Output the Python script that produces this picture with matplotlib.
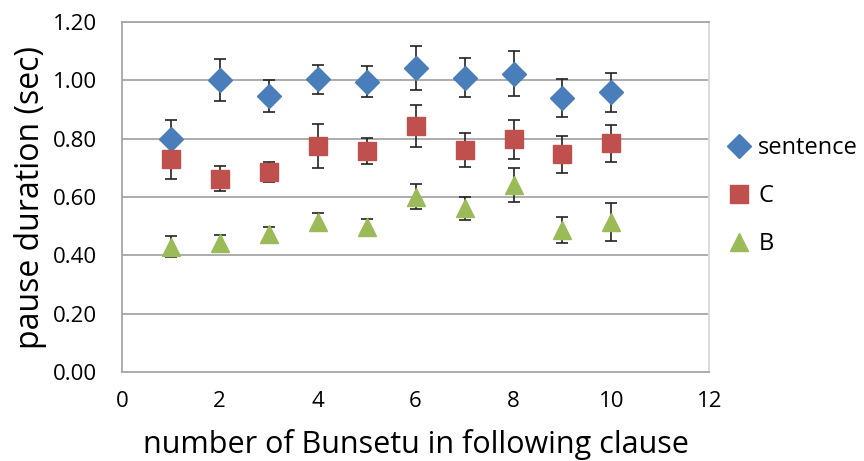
import numpy as np
import matplotlib.pyplot as plt

plt.rcParams['font.family'] = ['Open Sans', 'DejaVu Sans']

bunsetu = [1, 2, 3, 4, 5, 6, 7, 8, 9, 10]

sentence = [0.80, 1.003, 0.946, 1.004, 0.995, 1.043, 1.010, 1.023, 0.940, 0.959]
sentence_err = [0.064, 0.072, 0.054, 0.049, 0.053, 0.075, 0.068, 0.078, 0.065, 0.067]

c_vals = [0.730, 0.663, 0.687, 0.775, 0.758, 0.843, 0.761, 0.798, 0.747, 0.784]
c_err = [0.067, 0.043, 0.035, 0.075, 0.043, 0.072, 0.058, 0.067, 0.063, 0.064]

b_vals = [0.430, 0.441, 0.472, 0.515, 0.498, 0.601, 0.561, 0.641, 0.487, 0.515]
b_err = [0.036, 0.030, 0.026, 0.030, 0.027, 0.043, 0.039, 0.059, 0.044, 0.066]

fig = plt.figure(figsize=(8.64, 4.61), dpi=100)
ax = fig.add_axes([0.141, 0.193, 0.680, 0.759])

grid_col = '#a6a6a6'
for y in np.arange(0.2, 1.21, 0.2):
    ax.axhline(y, color=grid_col, lw=1.3, zorder=0)

series = [
    (sentence, sentence_err, 'D', '#4a7ebb', 12.5, 'sentence'),
    (c_vals, c_err, 's', '#c0504d', 13, 'C'),
    (b_vals, b_err, '^', '#9bbb59', 12.5, 'B'),
]
for vals, err, mk, col, ms, lab in series:
    ax.errorbar(bunsetu, vals, yerr=err, fmt='none', ecolor='#222222',
                elinewidth=1.2, capsize=4.5, capthick=1.2, zorder=2)
    ax.plot(bunsetu, vals, linestyle='none', marker=mk, color=col,
            markersize=ms, markeredgecolor=col, label=lab, zorder=3)

ax.set_xlim(0, 12)
ax.set_ylim(0, 1.2)
ax.set_xticks(range(0, 13, 2))
ax.set_yticks(np.arange(0, 1.21, 0.2))
ax.set_yticklabels(['%.2f' % v for v in np.arange(0, 1.21, 0.2)])
ax.tick_params(length=0, labelsize=16)
ax.tick_params(axis='x', pad=14)
ax.tick_params(axis='y', pad=18)

for side in ['left', 'bottom', 'right', 'top']:
    ax.spines[side].set_color(grid_col)
    ax.spines[side].set_linewidth(1.3)
ax.spines['right'].set_color('#d9d9d9')

ax.set_xlabel('number of Bunsetu in following clause', fontsize=22, labelpad=12)
ax.set_ylabel('pause duration (sec)', fontsize=23, labelpad=4)

ax.legend(loc='upper left', bbox_to_anchor=(0.995, 0.735), frameon=False,
          fontsize=17, handletextpad=0.3, labelspacing=1.02, handlelength=1.0)

fig.savefig('out.png', dpi=100)
plt.close()
